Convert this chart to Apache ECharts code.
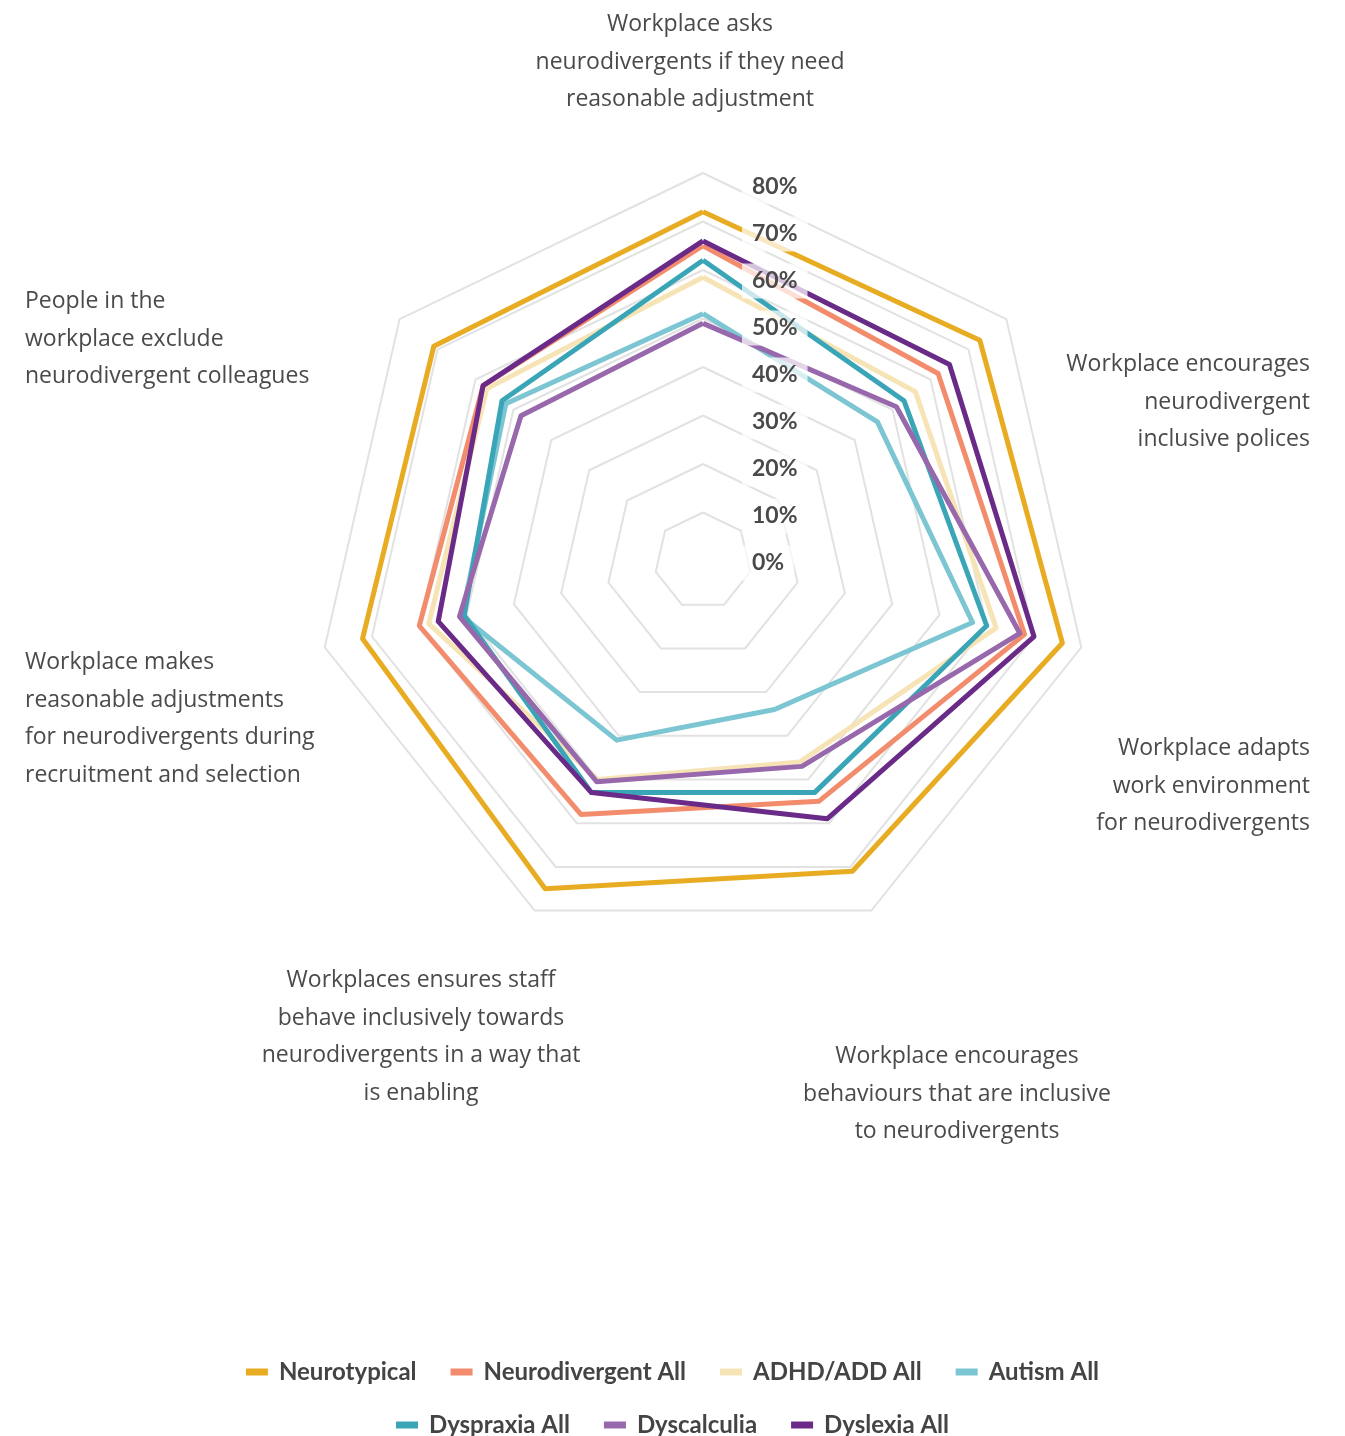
<!DOCTYPE html>
<html>
<head>
<meta charset="utf-8">
<title>Workplace inclusion radar</title>
<script src="https://cdn.jsdelivr.net/npm/echarts@6/dist/echarts.min.js"></script>
<style>
  html, body { margin: 0; padding: 0; background: #fff; }
  #chart { width: 1345px; height: 1436px; }
</style>
</head>
<body>
<div id="chart"></div>
<script>
// axes, read clockwise starting from the top
const categories = [
  'Workplace asks\nneurodivergents if they need\nreasonable adjustment',
  'Workplace encourages\nneurodivergent\ninclusive polices',
  'Workplace adapts\nwork environment\nfor neurodivergents',
  'Workplace encourages\nbehaviours that are inclusive\nto neurodivergents',
  'Workplaces ensures staff\nbehave inclusively towards\nneurodivergents in a way that\nis enabling',
  'Workplace makes\nreasonable adjustments\nfor neurodivergents during\nrecruitment and selection',
  'People in the\nworkplace exclude\nneurodivergent colleagues'
]

const seriesNames = ['Neurotypical', 'Neurodivergent All', 'ADHD/ADD All', 'Autism All', 'Dyspraxia All', 'Dyscalculia', 'Dyslexia All']

// values in %, same order as categories
const neurotypical = [72, 73, 76, 71, 75, 72, 71]
const neurodivergentAll = [65, 62, 68, 55, 58, 60, 58]
const adhdAll = [58.5, 56, 62, 46, 50, 58, 57]
const autismAll = [51, 46, 57, 34, 41, 51, 52]
const dyspraxiaAll = [62, 53, 60, 53, 53, 50.5, 53]
const dyscalculia = [49, 51, 67, 47, 50.5, 51.5, 48]
const dyslexiaAll = [66, 65, 70, 59, 53, 56, 58]

const axisMin = 0
const axisMax = 80
const axisSplits = 8

const seriesValues = [neurotypical, neurodivergentAll, adhdAll, autismAll, dyspraxiaAll, dyscalculia, dyslexiaAll]
const colors = ['#E8AC22', '#F28C6C', '#F7E4B6', '#7CC5D2', '#3BA5B8', '#9868AC', '#6A2A88']

// echarts lays radar axes out anticlockwise, so walk the list backwards after the first one
const order = [0, 6, 5, 4, 3, 2, 1]
const pick = arr => order.map(i => arr[i])

// where each axis title sits (clockwise, same order as categories)
const nameLayout = [
  { x: 690, y: 6, align: 'center' },
  { x: 1310, y: 346, align: 'right' },
  { x: 1310, y: 730, align: 'right' },
  { x: 957, y: 1038, align: 'center' },
  { x: 421, y: 962, align: 'center' },
  { x: 25, y: 644, align: 'left' },
  { x: 25, y: 283, align: 'left' }
]

const center = [703, 561]
const radius = 388

const chart = echarts.init(document.getElementById('chart'))

const baseRadar = {
  startAngle: 90,
  shape: 'polygon',
  splitNumber: axisSplits,
  axisName: { show: false },
  axisLine: { show: false },
  axisTick: { show: false },
  splitArea: { show: false }
}

const legendBase = {
  left: 'center',
  icon: 'rect', itemWidth: 22, itemHeight: 7, itemGap: 34,
  textStyle: { fontFamily: 'Lato', fontWeight: 'bold', fontSize: 24, lineHeight: 26, color: '#444', padding: [0, 0, 0, 6] }
}

chart.setOption({
  backgroundColor: '#fff',
  animation: false,
  radar: [
    // grid rings
    Object.assign({}, baseRadar, {
      z: 0,
      center: center,
      radius: radius,
      indicator: pick(categories).map(c => ({ name: c, min: axisMin, max: axisMax })),
      axisLabel: { show: false },
      splitLine: { lineStyle: { color: '#e2e2e2', width: 2 } }
    }),
    // percentage labels only, kept above the lines
    Object.assign({}, baseRadar, {
      z: 10,
      silent: true,
      center: [center[0], center[1] + 2],
      radius: 376,
      indicator: pick(categories).map((c, n) => ({
        name: c, min: axisMin, max: axisMax,
        axisLabel: { show: n === 0 }
      })),
      splitLine: { show: false },
      axisLabel: {
        show: false,
        formatter: '{value}%',
        color: '#4a4a4a',
        fontFamily: 'Lato',
        fontWeight: 'bold',
        fontSize: 23,
        align: 'left',
        margin: -39,
        backgroundColor: 'rgba(255,255,255,0.72)',
        padding: [6, 10]
      }
    })
  ],
  legend: [
    Object.assign({}, legendBase, { data: seriesNames.slice(0, 4), top: 1354 }),
    Object.assign({}, legendBase, { data: seriesNames.slice(4), top: 1407 })
  ],
  graphic: categories.map((c, i) => ({
    type: 'text',
    x: nameLayout[i].x,
    y: nameLayout[i].y,
    silent: true,
    style: {
      text: c,
      fill: '#4a4a4a',
      font: '23px "Open Sans"',
      lineHeight: 37.5,
      align: nameLayout[i].align,
      verticalAlign: 'top'
    }
  })),
  series: seriesNames.map((name, i) => ({
    name: name,
    type: 'radar',
    radarIndex: 0,
    symbol: 'none',
    itemStyle: { color: colors[i] },
    lineStyle: { color: colors[i], width: 5, opacity: 1 },
    data: [{ name: name, value: pick(seriesValues[i]) }]
  }))
})
</script>
</body>
</html>
